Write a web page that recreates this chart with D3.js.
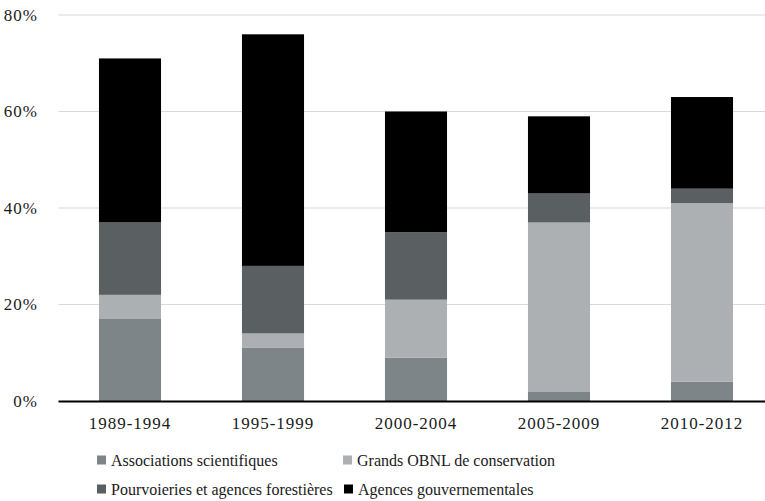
<!DOCTYPE html>
<html>
<head>
<meta charset="utf-8">
<script src="https://cdn.jsdelivr.net/npm/d3@7"></script>
<style>
  body { margin: 0; background: #fff; }
  svg { display: block; font-family: "Liberation Serif", "DejaVu Serif", serif; }
</style>
</head>
<body>
<svg id="chart" width="765" height="501"></svg>
<script>
// Data
const periods = ['1989-1994', '1995-1999', '2000-2004', '2005-2009', '2010-2012'];
const seriesNames = [
    'Associations scientifiques',
    'Grands OBNL de conservation',
    'Pourvoieries et agences forestières',
    'Agences gouvernementales'
];
const associations = [17, 11, 9, 2, 4];
const grandsObnl = [5, 3, 12, 35, 37];
const pourvoiries = [15, 14, 14, 6, 3];
const agences = [34, 48, 25, 16, 19];
const yTicks = [0, 20, 40, 60, 80];

const colors = ['#7e8588', '#adb0b3', '#5a5f62', '#000000'];

const svg = d3.select('#chart');
const margin = { left: 58.5, right: -8.5, top: 15, bottom: 100 };
const width = 765, height = 501;

const rows = periods.map((p, i) => ({
    period: p,
    s0: associations[i], s1: grandsObnl[i], s2: pourvoiries[i], s3: agences[i]
}));
const stack = d3.stack().keys(['s0', 's1', 's2', 's3'])(rows);

const x = d3.scaleBand()
    .domain(periods)
    .range([margin.left, width - margin.right])
    .paddingInner(0.566)
    .paddingOuter(0.283);

const y = d3.scaleLinear()
    .domain([0, 80])
    .range([height - margin.bottom, margin.top]);

// Gridlines
svg.append('g')
    .selectAll('line')
    .data(yTicks.slice(1))
    .enter()
    .append('line')
    .attr('x1', margin.left)
    .attr('x2', width)
    .attr('y1', d => y(d))
    .attr('y2', d => y(d))
    .style('stroke', '#d9d9d9')
    .style('stroke-width', 1);

// Y labels
svg.append('g')
    .selectAll('text')
    .data(yTicks)
    .enter()
    .append('text')
    .attr('x', 38)
    .attr('y', d => y(d))
    .attr('dy', '0.35em')
    .attr('text-anchor', 'end')
    .style('font-size', '17px')
    .style('letter-spacing', '1px')
    .style('fill', '#1a1a1a')
    .text(d => d + '%');

// Bars
svg.append('g')
    .selectAll('g')
    .data(stack)
    .enter()
    .append('g')
    .attr('fill', (d, i) => colors[i])
    .selectAll('rect')
    .data(d => d)
    .enter()
    .append('rect')
    .attr('x', d => x(d.data.period))
    .attr('width', x.bandwidth())
    .attr('y', d => y(d[1]))
    .attr('height', d => y(d[0]) - y(d[1]));

// Baseline
svg.append('line')
    .attr('x1', margin.left)
    .attr('x2', width)
    .attr('y1', y(0) + 0.5)
    .attr('y2', y(0) + 0.5)
    .style('stroke', '#000')
    .style('stroke-width', 2);

// X labels
svg.append('g')
    .selectAll('text')
    .data(periods)
    .enter()
    .append('text')
    .attr('x', d => x(d) + x.bandwidth() / 2)
    .attr('y', 423)
    .attr('dy', '0.35em')
    .attr('text-anchor', 'middle')
    .style('font-size', '17px')
    .style('letter-spacing', '1px')
    .style('fill', '#1a1a1a')
    .text(d => d);

// Legend
const legendPos = [
    { x: 97, y: 460 }, { x: 343, y: 460 },
    { x: 97, y: 489 }, { x: 344, y: 489 }
];
const legend = svg.append('g')
    .selectAll('g')
    .data(seriesNames)
    .enter()
    .append('g')
    .attr('transform', (d, i) => `translate(${legendPos[i].x},${legendPos[i].y})`);

legend.append('rect')
    .attr('x', 0)
    .attr('y', -4.5)
    .attr('width', 9)
    .attr('height', 9)
    .attr('fill', (d, i) => colors[i]);

legend.append('text')
    .attr('x', 14)
    .attr('dy', '0.35em')
    .style('font-size', '16px')
    .style('fill', '#1a1a1a')
    .text(d => d);
</script>
</body>
</html>
